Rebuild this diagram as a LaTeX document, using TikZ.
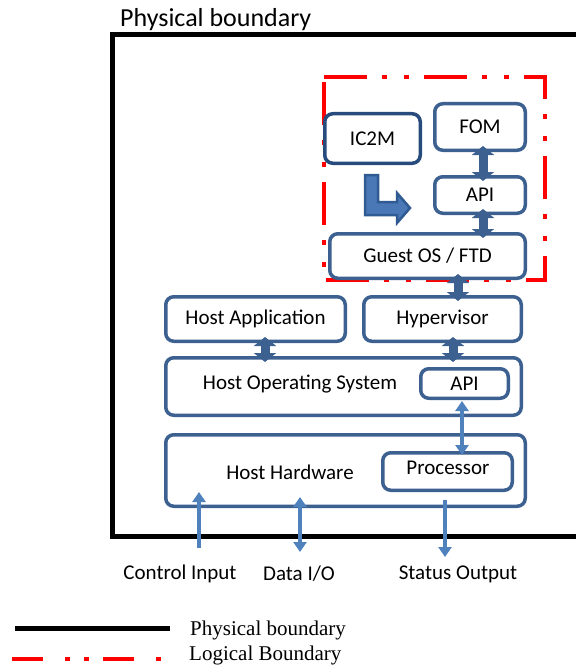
\documentclass[tikz,border=0pt]{standalone}
\usepackage{fontspec}
\setmainfont{Carlito}
\newfontfamily\legendfont{Liberation Serif}
\usetikzlibrary{arrows.meta,calc}
\definecolor{boxblue}{HTML}{3C6090}
\definecolor{darkblue}{HTML}{274B7D}
\definecolor{arrblue}{HTML}{4F81BD}
\definecolor{lfill}{HTML}{4A78B6}
\definecolor{lline}{HTML}{2F5A92}
\begin{document}
\begin{tikzpicture}[x=1pt,y=-1pt,
  box/.style={draw=boxblue, line width=3.5pt, rounded corners=8pt, fill=white,
    font=\fontsize{21}{25}\selectfont, inner sep=0pt},
  fat/.style={boxblue, line width=9pt,
    {Triangle[width=22pt,length=9pt]}-{Triangle[width=22pt,length=9pt]}},
  thinarr/.style={arrblue, line width=4pt, -{Triangle[width=13pt,length=10pt]}},
  thinboth/.style={arrblue, line width=4pt, {Triangle[width=13pt,length=10pt]}-{Triangle[width=13pt,length=10pt]}},
  lbl/.style={font=\fontsize{21}{25}\selectfont, inner sep=0pt},
  redline/.style={red, line width=4pt, dash pattern=on 43pt off 15pt on 5pt off 17pt on 5pt off 15pt},
  legtext/.style={font=\legendfont\fontsize{21}{25}\selectfont, anchor=west, inner sep=0pt}]
\useasboundingbox (0,0) rectangle (576,666);

% physical boundary
\draw[line width=5pt] (576,34.5) -- (112.5,34.5) -- (112.5,536.5) -- (576,536.5);
\node[anchor=base west, inner sep=0pt, font=\fontsize{26}{31}\selectfont] (ptitle) at (120,27) {Physical boundary};

% logical boundary
\draw[redline] (324,77) -- (545,77) -- (545,280) -- (324,280) -- cycle;

% boxes
\node[box, draw=darkblue, minimum width=95.5pt, minimum height=49.5pt] (ic2m) at (372.5,138.5) {IC2M};
\node[box, minimum width=90.5pt, minimum height=46.5pt] (fom) at (480,127) {FOM};
\node[box, minimum width=90.5pt, minimum height=36.5pt] (api1) at (480,195) {API};
\node[box, minimum width=195.5pt, minimum height=44.5pt] (guest) at (427.5,256) {Guest OS / FTD};
\node[box, minimum width=179.5pt, minimum height=44.5pt] (happ) at (255.5,319) {Host Application};
\node[box, minimum width=157.5pt, minimum height=44.5pt] (hyper) at (442.5,319) {Hypervisor};
\node[box, minimum width=355.5pt, minimum height=57.5pt] (hos) at (343.5,386.5) {};
\node[lbl] (hostext) at (300,384) {Host Operating System};
\node[box, minimum width=87.5pt, minimum height=29.5pt] (api2) at (464.5,383.5) {API};
\node[box, minimum width=359.5pt, minimum height=71.5pt] (hw) at (345.5,470.5) {};
\node[lbl] (hwtext) at (290,472) {Host Hardware};
\node[box, minimum width=129.5pt, minimum height=37.5pt] (proc) at (447.5,471.5) {};
\node[lbl] (proctext) at (448,468) {Processor};

% bent arrow
\draw[fill=lfill, draw=lline, line width=2.5pt, line join=miter]
  (365,175) -- (378,175) -- (378,202) -- (397,202) -- (397,193) -- (410,208)
  -- (397,223) -- (397,215) -- (365,215) -- cycle;

% fat double arrows
\coordinate (xa) at (483,0);
\coordinate (xb) at (458,0);
\coordinate (xc) at (265,0);
\coordinate (xd) at (453,0);
\draw[fat] ($(fom.south -| xa)+(0,-6)$) -- ($(api1.north -| xa)+(0,6)$);
\draw[fat] ($(api1.south -| xa)+(0,-6)$) -- ($(guest.north -| xa)+(0,6)$);
\draw[fat] ($(guest.south -| xb)+(0,-6)$) -- ($(hyper.north -| xb)+(0,6)$);
\draw[fat] ($(happ.south -| xc)+(0,-6)$) -- ($(hos.north -| xc)+(0,6)$);
\draw[fat] ($(hyper.south -| xd)+(0,-6)$) -- ($(hos.north -| xd)+(0,6)$);

% thin arrows
\coordinate (xe) at (462,0);
\draw[thinboth] ($(api2.south -| xe)+(0,1)$) -- ($(proc.north -| xe)+(0,4)$);
\coordinate (ciT) at (199,548);
\coordinate (ciH) at (199,492);
\draw[thinarr] (ciT) -- (ciH);
\coordinate (dA) at (300,497);
\coordinate (dB) at (300,552);
\draw[thinboth] (dA) -- (dB);
\coordinate (soT) at (445,500);
\coordinate (soH) at (445,557);
\draw[thinarr] (soT) -- (soH);

% labels
\node[lbl] (lci) at (180,574) {Control Input};
\node[lbl] (ldio) at (299,574) {Data I/O};
\node[lbl] (lso) at (458,574) {Status Output};

% legend
\coordinate (lp1) at (15,628);
\coordinate (lp2) at (170,628);
\draw[line width=5pt] (lp1) -- (lp2);
\node[legtext] (legp) at (190,630) {Physical boundary};
\coordinate (ll1) at (12,659);
\coordinate (ll2) at (172,659);
\draw[red, line width=4pt, dash pattern=on 31pt off 22pt on 5pt off 14pt on 5pt off 14pt] (ll1) -- (ll2);
\node[legtext] (legl) at (189,655) {Logical Boundary};
\end{tikzpicture}
\end{document}
